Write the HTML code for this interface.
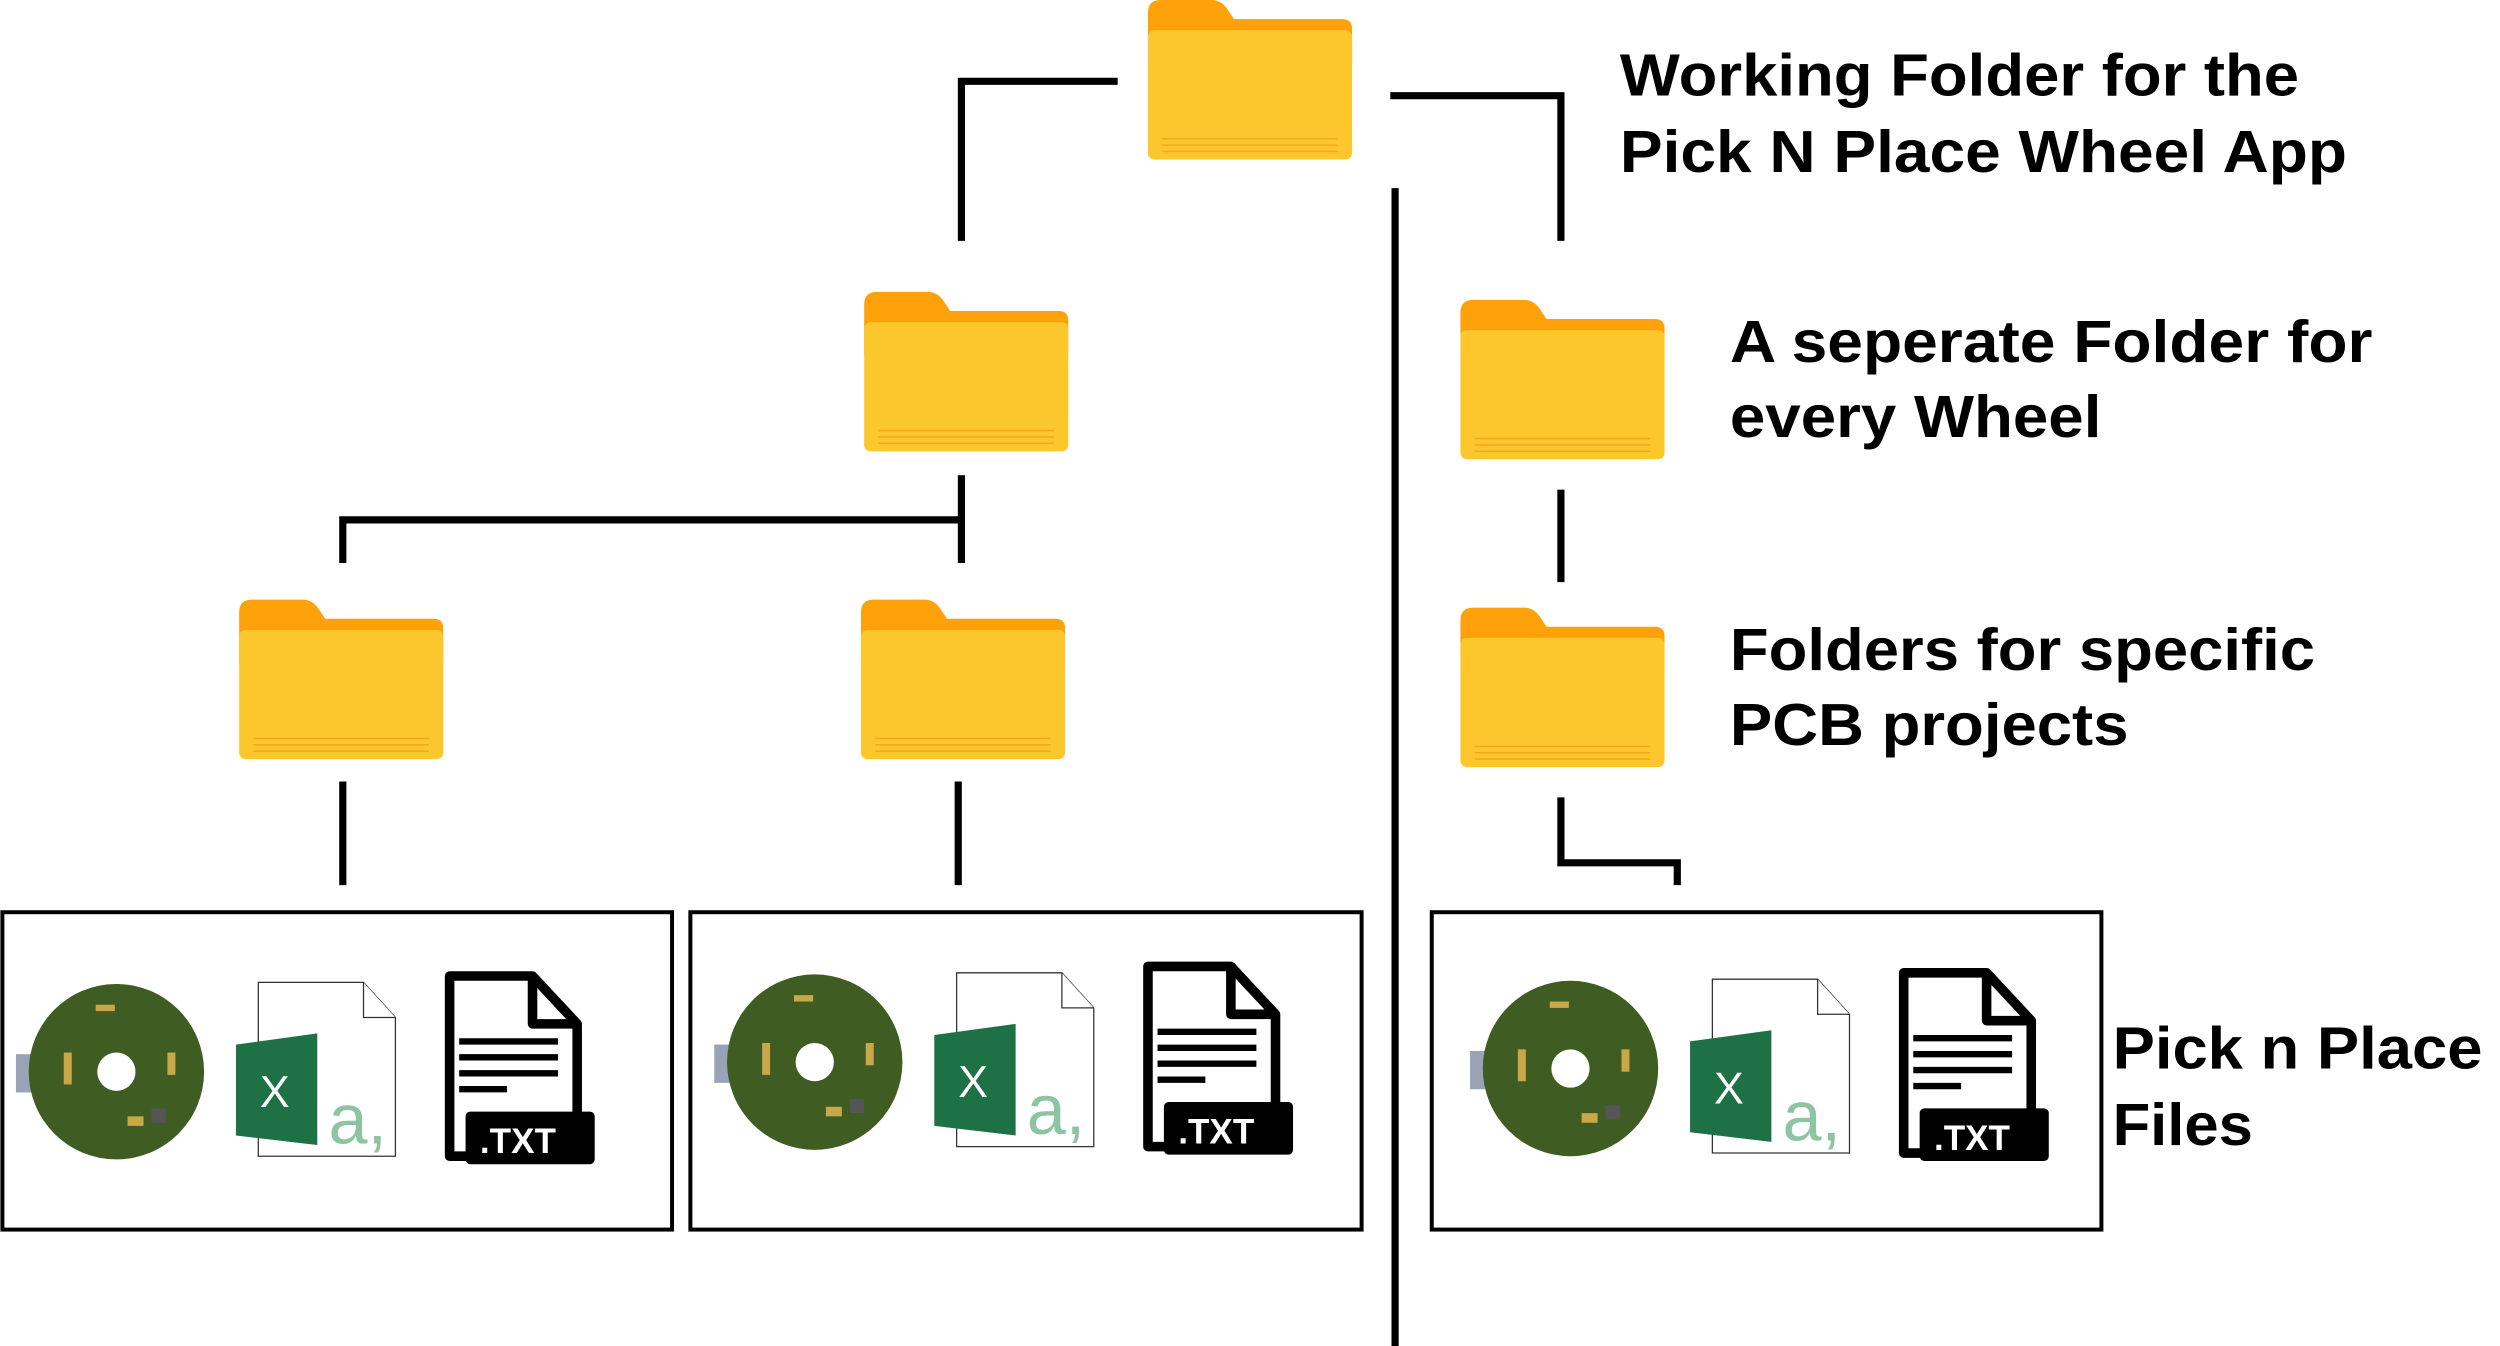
<!DOCTYPE html>
<html><head><meta charset="utf-8"><style>
html,body{margin:0;padding:0;background:#fff;width:2500px;height:1346px;overflow:hidden}
svg{display:block}
text{font-family:"Liberation Sans",sans-serif;font-weight:bold;font-size:37px;fill:#000}
</style></head><body>
<svg width="2500" height="1346" viewBox="0 0 1568 844" preserveAspectRatio="none" xmlns="http://www.w3.org/2000/svg">
<g stroke="#000" stroke-width="4.5" fill="none">
<polyline points="603,151 603,51 701,51"/>
<polyline points="872,60 979,60 979,151"/>
<line x1="875" y1="118" x2="875" y2="844"/>
<polyline points="215,353 215,326 603,326"/>
<line x1="603" y1="298" x2="603" y2="353"/>
<line x1="215" y1="490" x2="215" y2="555"/>
<line x1="601" y1="490" x2="601" y2="555"/>
<line x1="979" y1="307" x2="979" y2="365"/>
<polyline points="979,500 979,541 1052,541 1052,555"/>
</g>
<g stroke="#000" stroke-width="2.5" fill="none">
<rect x="1.5" y="572" width="420" height="199"/>
<rect x="433" y="572" width="421" height="199"/>
<rect x="898" y="572" width="420" height="199"/>
</g>

<g transform="translate(720,0)">
<path d="M0,8 Q0,0 8,0 L40,0 Q46,0 50,6 L54,12 L122,12 Q128,12 128,18 L128,40 L0,40 Z" fill="#FFA10A"/>
<rect x="0" y="19" width="128" height="81" rx="4" fill="#FCC72C"/>
<g stroke="#F5A81A" stroke-width="1"><line x1="9" y1="87" x2="119" y2="87"/><line x1="9" y1="91" x2="119" y2="91"/><line x1="9" y1="95" x2="119" y2="95"/></g>
</g>
<g transform="translate(542,183)">
<path d="M0,8 Q0,0 8,0 L40,0 Q46,0 50,6 L54,12 L122,12 Q128,12 128,18 L128,40 L0,40 Z" fill="#FFA10A"/>
<rect x="0" y="19" width="128" height="81" rx="4" fill="#FCC72C"/>
<g stroke="#F5A81A" stroke-width="1"><line x1="9" y1="87" x2="119" y2="87"/><line x1="9" y1="91" x2="119" y2="91"/><line x1="9" y1="95" x2="119" y2="95"/></g>
</g>
<g transform="translate(150,376)">
<path d="M0,8 Q0,0 8,0 L40,0 Q46,0 50,6 L54,12 L122,12 Q128,12 128,18 L128,40 L0,40 Z" fill="#FFA10A"/>
<rect x="0" y="19" width="128" height="81" rx="4" fill="#FCC72C"/>
<g stroke="#F5A81A" stroke-width="1"><line x1="9" y1="87" x2="119" y2="87"/><line x1="9" y1="91" x2="119" y2="91"/><line x1="9" y1="95" x2="119" y2="95"/></g>
</g>
<g transform="translate(540,376)">
<path d="M0,8 Q0,0 8,0 L40,0 Q46,0 50,6 L54,12 L122,12 Q128,12 128,18 L128,40 L0,40 Z" fill="#FFA10A"/>
<rect x="0" y="19" width="128" height="81" rx="4" fill="#FCC72C"/>
<g stroke="#F5A81A" stroke-width="1"><line x1="9" y1="87" x2="119" y2="87"/><line x1="9" y1="91" x2="119" y2="91"/><line x1="9" y1="95" x2="119" y2="95"/></g>
</g>
<g transform="translate(916,188)">
<path d="M0,8 Q0,0 8,0 L40,0 Q46,0 50,6 L54,12 L122,12 Q128,12 128,18 L128,40 L0,40 Z" fill="#FFA10A"/>
<rect x="0" y="19" width="128" height="81" rx="4" fill="#FCC72C"/>
<g stroke="#F5A81A" stroke-width="1"><line x1="9" y1="87" x2="119" y2="87"/><line x1="9" y1="91" x2="119" y2="91"/><line x1="9" y1="95" x2="119" y2="95"/></g>
</g>
<g transform="translate(916,381)">
<path d="M0,8 Q0,0 8,0 L40,0 Q46,0 50,6 L54,12 L122,12 Q128,12 128,18 L128,40 L0,40 Z" fill="#FFA10A"/>
<rect x="0" y="19" width="128" height="81" rx="4" fill="#FCC72C"/>
<g stroke="#F5A81A" stroke-width="1"><line x1="9" y1="87" x2="119" y2="87"/><line x1="9" y1="91" x2="119" y2="91"/><line x1="9" y1="95" x2="119" y2="95"/></g>
</g>

<g transform="translate(0,0)">
<rect x="10" y="661" width="16" height="24" fill="#9aa3b5"/>
<circle cx="73" cy="672" r="55" fill="#3f5c22"/>
<circle cx="73" cy="672" r="12" fill="#fff"/>
<g fill="#c9a84a"><rect x="40" y="660" width="5" height="20"/><rect x="105" y="660" width="5" height="14"/><rect x="60" y="630" width="12" height="4"/><rect x="80" y="700" width="10" height="6"/></g>
<rect x="95" y="695" width="9" height="9" fill="#555"/>
<path d="M162,616 L228,616 L248,638 L248,725 L162,725 Z" fill="#fff" stroke="#333" stroke-width="0.8"/>
<path d="M228,616 L228,638 L248,638" fill="#fff" stroke="#333" stroke-width="0.8"/>
<path d="M148,655 L199,648 L199,718 L148,712 Z" fill="#1e7145"/>
<text x="163" y="694" style="font-size:28px;font-weight:normal;fill:#fff">X</text>
<text x="206" y="717" style="font-size:44px;font-weight:normal;fill:#8fc4a3">a,</text>
<path d="M282,612 L334,612 L362,642 L362,725 L282,725 Z" fill="#fff" stroke="#000" stroke-width="6" stroke-linejoin="round"/>
<path d="M334,612 L334,642 L362,642" fill="none" stroke="#000" stroke-width="6" stroke-linejoin="round"/>
<g stroke="#000" stroke-width="4"><line x1="288" y1="653" x2="350" y2="653"/><line x1="288" y1="663" x2="350" y2="663"/><line x1="288" y1="673" x2="350" y2="673"/><line x1="288" y1="683" x2="318" y2="683"/></g>
<rect x="292" y="697" width="81" height="33" rx="3" fill="#000"/>
<text x="301" y="723" style="font-size:22px;fill:#fff">.TXT</text>
</g>
<g transform="translate(438,-6)">
<rect x="10" y="661" width="16" height="24" fill="#9aa3b5"/>
<circle cx="73" cy="672" r="55" fill="#3f5c22"/>
<circle cx="73" cy="672" r="12" fill="#fff"/>
<g fill="#c9a84a"><rect x="40" y="660" width="5" height="20"/><rect x="105" y="660" width="5" height="14"/><rect x="60" y="630" width="12" height="4"/><rect x="80" y="700" width="10" height="6"/></g>
<rect x="95" y="695" width="9" height="9" fill="#555"/>
<path d="M162,616 L228,616 L248,638 L248,725 L162,725 Z" fill="#fff" stroke="#333" stroke-width="0.8"/>
<path d="M228,616 L228,638 L248,638" fill="#fff" stroke="#333" stroke-width="0.8"/>
<path d="M148,655 L199,648 L199,718 L148,712 Z" fill="#1e7145"/>
<text x="163" y="694" style="font-size:28px;font-weight:normal;fill:#fff">X</text>
<text x="206" y="717" style="font-size:44px;font-weight:normal;fill:#8fc4a3">a,</text>
<path d="M282,612 L334,612 L362,642 L362,725 L282,725 Z" fill="#fff" stroke="#000" stroke-width="6" stroke-linejoin="round"/>
<path d="M334,612 L334,642 L362,642" fill="none" stroke="#000" stroke-width="6" stroke-linejoin="round"/>
<g stroke="#000" stroke-width="4"><line x1="288" y1="653" x2="350" y2="653"/><line x1="288" y1="663" x2="350" y2="663"/><line x1="288" y1="673" x2="350" y2="673"/><line x1="288" y1="683" x2="318" y2="683"/></g>
<rect x="292" y="697" width="81" height="33" rx="3" fill="#000"/>
<text x="301" y="723" style="font-size:22px;fill:#fff">.TXT</text>
</g>
<g transform="translate(912,-2)">
<rect x="10" y="661" width="16" height="24" fill="#9aa3b5"/>
<circle cx="73" cy="672" r="55" fill="#3f5c22"/>
<circle cx="73" cy="672" r="12" fill="#fff"/>
<g fill="#c9a84a"><rect x="40" y="660" width="5" height="20"/><rect x="105" y="660" width="5" height="14"/><rect x="60" y="630" width="12" height="4"/><rect x="80" y="700" width="10" height="6"/></g>
<rect x="95" y="695" width="9" height="9" fill="#555"/>
<path d="M162,616 L228,616 L248,638 L248,725 L162,725 Z" fill="#fff" stroke="#333" stroke-width="0.8"/>
<path d="M228,616 L228,638 L248,638" fill="#fff" stroke="#333" stroke-width="0.8"/>
<path d="M148,655 L199,648 L199,718 L148,712 Z" fill="#1e7145"/>
<text x="163" y="694" style="font-size:28px;font-weight:normal;fill:#fff">X</text>
<text x="206" y="717" style="font-size:44px;font-weight:normal;fill:#8fc4a3">a,</text>
<path d="M282,612 L334,612 L362,642 L362,725 L282,725 Z" fill="#fff" stroke="#000" stroke-width="6" stroke-linejoin="round"/>
<path d="M334,612 L334,642 L362,642" fill="none" stroke="#000" stroke-width="6" stroke-linejoin="round"/>
<g stroke="#000" stroke-width="4"><line x1="288" y1="653" x2="350" y2="653"/><line x1="288" y1="663" x2="350" y2="663"/><line x1="288" y1="673" x2="350" y2="673"/><line x1="288" y1="683" x2="318" y2="683"/></g>
<rect x="292" y="697" width="81" height="33" rx="3" fill="#000"/>
<text x="301" y="723" style="font-size:22px;fill:#fff">.TXT</text>
</g>

<text x="1016" y="60" textLength="426" lengthAdjust="spacingAndGlyphs">Working Folder for the</text>
<text x="1016" y="108" textLength="456" lengthAdjust="spacingAndGlyphs">Pick N Place Wheel App</text>
<text x="1085" y="227" textLength="403" lengthAdjust="spacingAndGlyphs">A seperate Folder for</text>
<text x="1085" y="274" textLength="233" lengthAdjust="spacingAndGlyphs">every Wheel</text>
<text x="1085" y="420" textLength="367" lengthAdjust="spacingAndGlyphs">Folders for specific</text>
<text x="1085" y="467" textLength="250" lengthAdjust="spacingAndGlyphs">PCB projects</text>
<text x="1325" y="670" textLength="232" lengthAdjust="spacingAndGlyphs">Pick n Place</text>
<text x="1325" y="718" textLength="88" lengthAdjust="spacingAndGlyphs">Files</text>
</svg>
</body></html>
